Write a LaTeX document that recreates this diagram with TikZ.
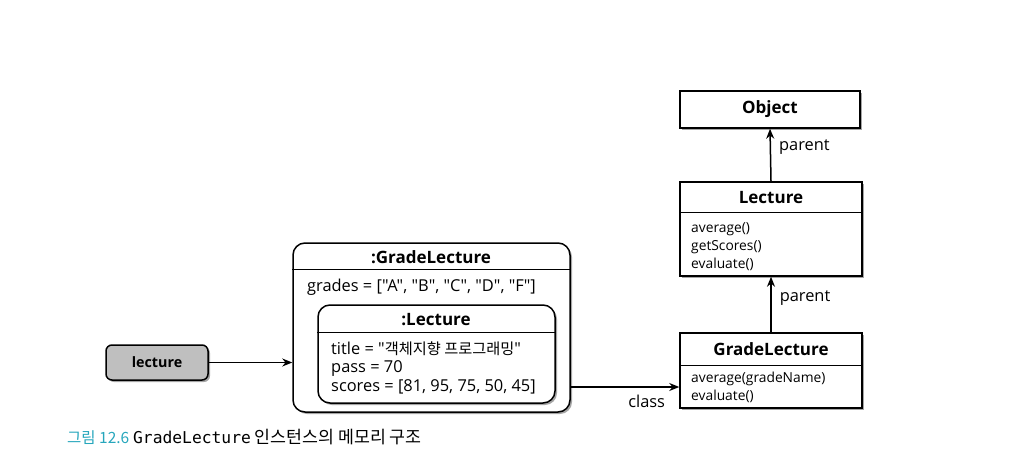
\documentclass[tikz,border=0pt]{standalone}
\usepackage{fontspec}
\setmainfont{Open Sans}[Ligatures=TeXOff]
\newfontfamily\kr{Noto Sans CJK KR}[Ligatures=TeXOff,Scale=0.93]
\newfontfamily\krcap{Noto Sans CJK KR}[Ligatures=TeXOff]
\newfontfamily\monof{DejaVu Sans Mono}
\usetikzlibrary{shadows,arrows.meta,calc}
\definecolor{capteal}{RGB}{38,166,188}
\begin{document}
\begin{tikzpicture}[x=1pt,y=-1pt,
  box/.style={draw, line width=1.5pt, fill=white, inner sep=0pt,
    drop shadow={shadow xshift=2pt,shadow yshift=-2pt,fill=black!70,opacity=0.5}},
  ttl/.style={font=\bfseries\fontsize{17}{18}\selectfont, inner sep=0pt},
  txt/.style={font=\fontsize{13.8}{18}\selectfont, align=left, anchor=north west, inner sep=0pt},
  itxt/.style={font=\fontsize{16.4}{18.5}\selectfont, align=left, inner sep=0pt},
  arr/.style={-{Stealth[length=10pt,width=8pt]}, line width=1.5pt},
  lbl/.style={font=\fontsize{16.4}{17}\selectfont, inner sep=0pt},
  divider/.style={line width=0.8pt}]
\useasboundingbox (0,0) rectangle (1019,476);

% class boxes
\node[box, minimum width=180pt, minimum height=37pt] (obj) at (770,109.5) {};
\node[ttl] (objt) at (obj.center) {Object};

\node[box, minimum width=182pt, minimum height=94pt] (lec) at (771,229) {};
\draw[divider] ($(lec.north west)+(0,31)$) -- ($(lec.north east)+(0,31)$);
\node[ttl] (lect) at (771,197.5) {Lecture};
\node[txt] (lecm) at (691,222.5) {average()\\getScores()\\evaluate()};

\node[box, minimum width=182pt, minimum height=75pt] (gl) at (771,370.5) {};
\draw[divider] ($(gl.north west)+(0,33)$) -- ($(gl.north east)+(0,33)$);
\node[ttl] (glt) at (771,349) {GradeLecture};
\node[txt] (glm) at (691,371.5) {average(gradeName)\\evaluate()};

\draw[arr] (lec.north) -- node[lbl, pos=0.65, right=8pt] (p1) {parent} (obj.south);
\draw[arr] (gl.north) -- node[lbl, pos=0.61, right=8pt] (p2) {parent} (lec.south);

% instance
\node[box, rounded corners=12pt, minimum width=277pt, minimum height=169pt] (outer) at (431.5,327.5) {};
\draw[divider] ($(outer.north west)+(0,27)$) -- ($(outer.north east)+(0,27)$);
\node[ttl] (outt) at (431,257) {:GradeLecture};
\node[itxt, anchor=west] (grades) at (307,287) {grades = ["A", "B", "C", "D", "F"]};

\node[box, rounded corners=12pt, minimum width=237pt, minimum height=98pt] (inner) at (436.5,354) {};
\draw[divider] ($(inner.north west)+(0,28)$) -- ($(inner.north east)+(0,28)$);
\node[ttl] (innt) at (436,320) {:Lecture};
\node[itxt, anchor=north west] (innm) at (331,341.5) {title = "{\kr 객체지향 프로그래밍}"\\pass = 70\\scores = [81, 95, 75, 50, 45]};

% reference variable
\node[box, rounded corners=6pt, fill=black!25, minimum width=102pt, minimum height=35pt] (var) at (157,362.5) {};
\node[font=\bfseries\fontsize{14.3}{16}\selectfont, inner sep=0pt] (vart) at (var.center) {lecture};

\draw[arr] (var.east) -- (var.east -| outer.west);
\draw[arr] (outer.east |- 0,387) -- (gl.west |- 0,387) node[lbl, pos=0.7, below=7pt] (cls) {class};

% caption
\node[anchor=west, inner sep=0pt, font=\krcap\fontsize{17.3}{18}\selectfont] (cap) at (67,437)
  {{\color{capteal}\fontsize{15.5}{17}\selectfont 그림 12.6} {\monof\fontsize{16.3}{17}\selectfont GradeLecture} 인스턴스의 메모리 구조};
\end{tikzpicture}
\end{document}
